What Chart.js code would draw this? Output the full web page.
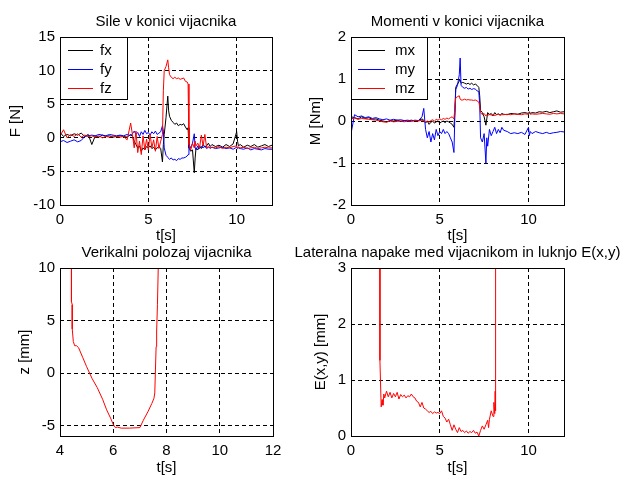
<!DOCTYPE html>
<html>
<head>
<meta charset="utf-8">
<script src="https://cdn.jsdelivr.net/npm/chart.js@4.4.1/dist/chart.umd.min.js"></script>
<style>
    html, body { margin: 0; padding: 0; background: #fff; }
    #fig { position: relative; width: 621px; height: 480px; overflow: hidden; background: #fff; }
    #fig canvas { position: absolute; left: 0; top: 0; }
</style>
</head>
<body>
<div id="fig">
    <canvas id="forces" width="621" height="480"></canvas>
    <canvas id="moments" width="621" height="480"></canvas>
    <canvas id="height" width="621" height="480"></canvas>
    <canvas id="lateral" width="621" height="480"></canvas>
</div>
<script>
// time base shared by the force / moment plots [s]
const tTop = [0, 0.2, 0.4, 0.6, 0.8, 1.0, 1.2, 1.4, 1.6, 1.8,
    2.0, 2.2, 2.4, 2.6, 2.8, 3.0, 3.2, 3.4, 3.6, 3.8,
    4.0, 4.1, 4.2, 4.3, 4.4, 4.5, 4.6, 4.7, 4.8, 4.9,
    5.0, 5.1, 5.2, 5.3, 5.4, 5.5, 5.6, 5.7, 5.8, 5.85,
    5.9, 6.0, 6.1, 6.15, 6.2, 6.3, 6.4, 6.5, 6.6, 6.7,
    6.8, 6.9, 7.0, 7.1, 7.2, 7.25, 7.3, 7.4, 7.5, 7.6,
    7.65, 7.7, 7.8, 7.9, 8.0, 8.1, 8.2, 8.3, 8.4, 8.5,
    8.6, 8.8, 9.0, 9.2, 9.4, 9.6, 9.8, 10.0, 10.05, 10.1,
    10.2, 10.4, 10.6, 10.8, 11.0, 11.2, 11.4, 11.6, 11.8, 12.0];

// forces [N]
const fx = [0.8, 0.2, 0.5, 0.3, 0.6, 0.4, 0.7, 0.2, 0.5, -1.0,
    0.3, 0.1, 0.4, 0.2, 0.3, 0.1, 0.2, 0.3, 0.2, 0.1,
    0.5, 0.2, -0.5, -1.0, -1.5, -1.2, -2.0, -1.5, -1.8, -1.3,
    -1.5, -1.2, -1.6, -1.4, -1.8, -1.5, -1.3, -1.6, -3.6, -1.0,
    0.5, 3.0, 6.2, 4.0, 3.2, 2.6, 2.3, 2.0, 2.2, 1.8,
    2.0, 1.9, 2.1, 1.6, 1.2, 1.5, -1.5, -2.0, -1.8, -5.2,
    -3.0, -1.5, -1.8, -1.2, -1.6, -1.0, -1.4, -1.2, -0.8, -1.3,
    -1.0, -1.3, -1.1, -1.4, -1.0, -1.3, -0.9, 0.9, -0.5, -1.2,
    -1.0, -1.4, -1.1, -1.3, -1.0, -1.4, -1.2, -1.0, -1.3, -1.1];
const fy = [-0.6, -0.4, -0.7, -0.5, -0.3, -0.6, -0.4, 0.2, 0.3, 0.4,
    0.3, 0.5, 0.4, 0.3, 0.5, 0.4, 0.3, 0.4, 0.3, 0.5,
    0.3, 0.6, 1.0, 0.5, 0.8, 0.2, 0.9, 0.5, 1.1, 0.6,
    0.8, 0.4, 0.9, 0.6, 1.0, 0.5, 0.7, 0.9, 1.8, 1.0,
    -1.5, -2.6, -2.9, -3.1, -3.2, -3.0, -3.3, -3.2, -3.4, -3.1,
    -3.2, -3.0, -3.0, -2.9, -2.7, -2.5, -1.0, -1.5, -0.8, 0.6,
    -1.5, -1.8, -1.2, -1.6, -1.3, -1.5, -1.2, -1.6, -1.4, -1.5,
    -1.4, -1.6, -1.5, -1.4, -1.6, -1.5, -1.7, -1.4, -1.6, -1.5,
    -1.6, -1.7, -1.5, -1.8, -1.6, -1.7, -1.8, -1.6, -1.7, -1.7];
const fz = [0.3, 1.2, 0.0, 0.5, 0.2, 0.6, 0.1, 0.4, 0.2, 0.3,
    0.1, 0.3, 0.0, 0.2, 0.1, 0.3, 0.2, 0.1, 0.2, -0.3,
    2.2, 0.5, -1.5, 1.0, -2.2, -0.5, -2.5, 0.3, -1.8, -0.2,
    -1.8, 0.5, -1.5, -0.3, -2.0, 0.2, -1.6, -0.5, 0.5, 7.0,
    10.0, 10.6, 11.6, 10.4, 9.4, 9.0, 8.8, 9.0, 8.8, 8.9,
    8.7, 8.8, 8.9, 8.4, 8.3, 8.0, -1.0, -1.8, -0.8, -1.5,
    -0.5, -1.2, -0.8, -1.5, 0.4, -1.2, 0.5, -1.5, -1.3, -1.6,
    -1.4, -1.5, -1.3, -1.6, -1.4, -1.5, -1.3, -1.2, -1.5, -1.4,
    -1.5, -1.4, -1.6, -1.5, -1.4, -1.6, -1.5, -1.4, -1.5, -1.5];

// moments [Nm]
const mx = [0.1, 0.08, 0.05, 0.1, 0.06, 0.08, 0.04, 0.05, 0.02, 0.0,
    -0.02, 0.01, 0.0, 0.02, -0.01, 0.01, 0.0, 0.02, 0.0, 0.01,
    0.05, 0.02, -0.05, 0.0, -0.08, -0.03, 0.0, -0.05, -0.02, 0.0,
    -0.05, -0.02, 0.0, -0.04, 0.0, -0.02, -0.05, -0.08, -0.15, 0.2,
    0.8, 0.88, 0.95, 0.98, 0.9, 0.92, 0.9, 0.88, 0.9, 0.87,
    0.9, 0.86, 0.88, 0.85, 0.8, 0.6, 0.25, 0.2, 0.1, -0.1,
    0.05, 0.2, 0.15, 0.18, 0.12, 0.2, 0.15, 0.17, 0.14, 0.18,
    0.16, 0.15, 0.18, 0.17, 0.16, 0.19, 0.2, 0.18, 0.22, 0.18,
    0.2, 0.19, 0.22, 0.21, 0.23, 0.2, 0.22, 0.24, 0.21, 0.22];
const my = [-0.3, 0.15, 0.1, 0.12, 0.08, 0.1, 0.06, 0.08, 0.05, 0.03,
    0.05, 0.02, 0.04, 0.02, 0.03, 0.01, 0.02, 0.0, 0.02, 0.01,
    0.1, 0.3, -0.2, -0.4, -0.25, -0.5, -0.3, -0.45, -0.2, -0.35,
    -0.25, -0.3, -0.2, -0.3, -0.25, -0.3, -0.4, -0.5, -0.75, 0.1,
    0.75, 0.85, 1.1, 1.5, 0.85, 0.8, 0.78, 0.8, 0.76, 0.78,
    0.75, 0.77, 0.76, 0.72, 0.7, 0.4, -0.4, -0.5, -0.3, -1.0,
    -0.4, -0.6, -0.2, -0.35, -0.25, -0.15, -0.3, -0.2, -0.28, -0.15,
    -0.22, -0.25, -0.3, -0.28, -0.3, -0.27, -0.32, -0.15, -0.35, -0.25,
    -0.3, -0.25, -0.28, -0.3, -0.27, -0.3, -0.28, -0.27, -0.25, -0.26];
const mz = [0.05, 0.07, 0.04, 0.06, 0.05, 0.04, 0.03, 0.02, 0.0, -0.02,
    -0.03, 0.0, -0.02, -0.01, 0.0, -0.02, 0.0, -0.01, 0.01, 0.0,
    0.02, 0.0, -0.02, 0.0, -0.03, 0.01, 0.03, 0.0, 0.04, 0.02,
    0.05, 0.03, 0.06, 0.04, 0.07, 0.05, 0.08, 0.1, 0.05, 0.3,
    0.55, 0.58, 0.6, 0.52, 0.5, 0.5, 0.52, 0.5, 0.51, 0.5,
    0.5, 0.49, 0.5, 0.48, 0.45, 0.35, 0.2, 0.15, 0.18, 0.12,
    0.15, 0.13, 0.16, 0.14, 0.15, 0.13, 0.15, 0.16, 0.14, 0.15,
    0.15, 0.16, 0.15, 0.17, 0.16, 0.15, 0.17, 0.16, 0.18, 0.16,
    0.17, 0.16, 0.17, 0.18, 0.17, 0.16, 0.18, 0.17, 0.18, 0.17];

// vertical position of the screwdriver [mm]
const zTime = [4.43, 4.43, 4.46, 4.46, 4.5, 4.55, 4.62, 4.7, 4.85, 5.0,
    5.2, 5.4, 5.6, 5.75, 5.9, 6.0, 6.08, 6.15, 6.3, 6.6,
    7.0, 7.13, 7.3, 7.45, 7.53, 7.56, 7.58, 7.61, 7.63, 7.66, 7.69];
const zPos = [10, 6.8, 6.5, 4.2, 3.0, 2.6, 2.6, 2.4, 1.5, 0.6,
    -0.5, -1.4, -2.5, -3.5, -4.3, -4.9, -5.2, -5.15, -5.25, -5.25,
    -5.2, -4.5, -3.7, -2.9, -2.4, -1.9, -0.1, 2.5, 4.0, 6.5, 10];

// lateral error E(x,y) [mm]
const eTime = [1.63, 1.63, 1.7, 1.75, 1.8, 1.85, 1.9,
    2.0, 2.1, 2.2, 2.3, 2.4, 2.5, 2.6, 2.7, 2.8, 2.9,
    3.0, 3.1, 3.2, 3.3, 3.4, 3.5, 3.6, 3.7, 3.8, 3.9,
    4.0, 4.1, 4.2, 4.3, 4.4, 4.5, 4.6, 4.7, 4.8, 4.9,
    5.0, 5.1, 5.2, 5.3, 5.4, 5.5, 5.6, 5.7, 5.8, 5.9,
    6.0, 6.1, 6.2, 6.3, 6.4, 6.5, 6.6, 6.7, 6.8, 6.9,
    7.0, 7.1, 7.2, 7.3, 7.4, 7.5, 7.6, 7.7,
    7.75, 7.8, 7.9, 8.0, 8.05, 8.1, 8.12, 8.14, 8.15, 8.15];
const eVal = [3.0, 1.35, 0.52, 0.65, 0.55, 0.75, 0.68,
    0.8, 0.7, 0.78, 0.68, 0.76, 0.7, 0.78, 0.66, 0.74, 0.7,
    0.73, 0.68, 0.72, 0.7, 0.75, 0.7, 0.68, 0.62, 0.6, 0.52,
    0.6, 0.5, 0.48, 0.45, 0.42, 0.44, 0.4, 0.43, 0.41, 0.42,
    0.4, 0.45, 0.35, 0.32, 0.25, 0.3, 0.2, 0.1, 0.2, 0.12,
    0.06, 0.15, 0.08, 0.1, 0.06, 0.09, 0.05, 0.08, 0.06, 0.1,
    0.05, 0.07, 0.0, 0.1, 0.18, 0.12, 0.2, 0.28,
    0.15, 0.3, 0.45, 0.35, 0.6, 0.4, 0.8, 0.45, 0.5, 3.0];

// tick labels
const xTicksTime = [0, 5, 10];
const xTicksZ = [4, 6, 8, 10, 12];
const yTicksF = [15, 10, 5, 0, -5, -10];
const yTicksM = [2, 1, 0, -1, -2];
const yTicksZ = [10, 5, 0, -5];
const yTicksE = [3, 2, 1, 0];

const FONT = '"Liberation Sans", Arial, Helvetica, sans-serif';
Chart.defaults.font.family = FONT;
Chart.defaults.font.size = 15;
Chart.defaults.color = '#000';

const BLACK = '#000000', BLUE = '#0000ff', RED = '#ff0000';

const pts = (xs, ys) => xs.map((x, i) => ({ x: x, y: ys[i] }));

// MATLAB style box, title and legend
const matlabDecor = {
    id: 'matlabDecor',
    afterDraw(chart, args, opts) {
        const { ctx, chartArea: a } = chart;
        ctx.save();
        if (opts.legend) {
            const lg = opts.legend;
            const x0 = Math.round(a.left) + 0.5, y0 = Math.round(a.top) + 0.5;
            ctx.fillStyle = '#fff';
            ctx.fillRect(x0, y0, lg.width, lg.height);
            ctx.strokeStyle = '#000';
            ctx.lineWidth = 1;
            ctx.strokeRect(x0, y0, lg.width, lg.height);
            ctx.font = '15px ' + FONT;
            ctx.textAlign = 'left';
            ctx.textBaseline = 'middle';
            lg.items.forEach((it, i) => {
                const y = Math.round(a.top + lg.firstRow + i * lg.rowStep) + 0.5;
                ctx.strokeStyle = it.color;
                ctx.beginPath();
                ctx.moveTo(a.left + lg.lineFrom, y);
                ctx.lineTo(a.left + lg.lineTo, y);
                ctx.stroke();
                ctx.fillStyle = '#000';
                ctx.fillText(it.label, a.left + lg.textX, y);
            });
        }
        ctx.strokeStyle = '#000';
        ctx.lineWidth = 1;
        ctx.strokeRect(Math.round(a.left) + 0.5, Math.round(a.top) + 0.5,
            Math.round(a.right - a.left), Math.round(a.bottom - a.top));
        ctx.fillStyle = '#000';
        ctx.font = '15px ' + FONT;
        ctx.textAlign = 'center';
        ctx.textBaseline = 'alphabetic';
        ctx.fillText(opts.title, (a.left + a.right) / 2, a.top - 11);
        ctx.restore();
    }
};

function axis(min, max, ticks, title, isX, size, titlePad) {
    return {
        type: 'linear',
        min: min,
        max: max,
        afterBuildTicks: s => { s.ticks = ticks.map(v => ({ value: v })); },
        afterFit: s => { if (isX) { s.height = size; } else { s.width = size; } },
        grid: { color: '#000', lineWidth: 1, drawTicks: false },
        border: { display: false, dash: [4, 3] },
        ticks: { padding: isX ? 6 : 5, autoSkip: false, maxRotation: 0 },
        title: {
            display: true,
            text: title,
            padding: isX ? { top: 0, bottom: titlePad } : { top: titlePad, bottom: 0 }
        }
    };
}

function line(label, xs, ys, color, order) {
    return {
        label: label,
        data: pts(xs, ys),
        borderColor: color,
        borderWidth: 1,
        pointRadius: 0,
        tension: 0,
        order: order
    };
}

function panel(id, datasets, padding, xs, ys, decor) {
    return new Chart(document.getElementById(id), {
        type: 'line',
        data: { datasets: datasets },
        options: {
            responsive: false,
            animation: false,
            events: [],
            layout: { padding: padding },
            plugins: { legend: { display: false }, tooltip: { enabled: false }, matlabDecor: decor },
            scales: { x: xs, y: ys }
        },
        plugins: [matlabDecor]
    });
}

panel('forces',
    [line('fx', tTop, fx, BLACK, 3), line('fy', tTop, fy, BLUE, 2), line('fz', tTop, fz, RED, 1)],
    { left: 0, right: 349, top: 37, bottom: 231 },
    axis(0, 12, xTicksTime, 't[s]', true, 44, 4),
    axis(-10, 15, yTicksF, 'F [N]', false, 60, 7),
    {
        title: 'Sile v konici vijacnika',
        legend: {
            width: 67, height: 62, firstRow: 13, rowStep: 19, lineFrom: 8, lineTo: 33, textX: 40,
            items: [{ label: 'fx', color: BLACK }, { label: 'fy', color: BLUE }, { label: 'fz', color: RED }]
        }
    });

panel('moments',
    [line('mx', tTop, mx, BLACK, 3), line('my', tTop, my, BLUE, 2), line('mz', tTop, mz, RED, 1)],
    { left: 300, right: 57, top: 37, bottom: 231 },
    axis(0, 12, xTicksTime, 't[s]', true, 44, 4),
    axis(-2, 2, yTicksM, 'M [Nm]', false, 51, 7),
    {
        title: 'Momenti v konici vijacnika',
        legend: {
            width: 76, height: 62, firstRow: 13, rowStep: 19, lineFrom: 7, lineTo: 34, textX: 44,
            items: [{ label: 'mx', color: BLACK }, { label: 'my', color: BLUE }, { label: 'mz', color: RED }]
        }
    });

panel('height',
    [line('z', zTime, zPos, RED, 1)],
    { left: 0, right: 348, top: 268, bottom: 0 },
    axis(4, 12, xTicksZ, 't[s]', true, 44, 3),
    axis(-6, 10, yTicksZ, 'z [mm]', false, 60, 16),
    { title: 'Verikalni polozaj vijacnika' });

panel('lateral',
    [line('E', eTime, eVal, RED, 1)],
    { left: 300, right: 57, top: 268, bottom: 0 },
    axis(0, 12, xTicksTime, 't[s]', true, 44, 3),
    axis(0, 3, yTicksE, 'E(x,y) [mm]', false, 51, 12),
    { title: 'Lateralna napake med vijacnikom in luknjo E(x,y)' });
</script>
</body>
</html>
